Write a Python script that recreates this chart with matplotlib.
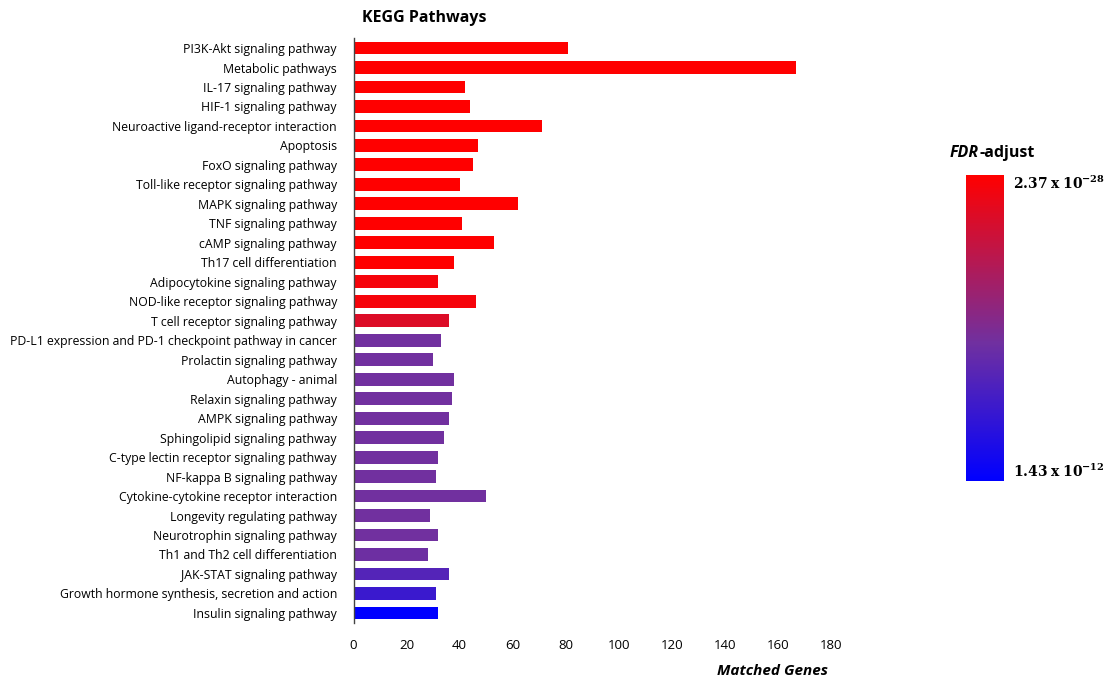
import matplotlib.pyplot as plt
import matplotlib.colors as mcolors
from matplotlib.cm import ScalarMappable

plt.rcParams['font.family'] = ['Open Sans', 'DejaVu Sans']
plt.rcParams['mathtext.fontset'] = 'dejavuserif'

pathways = [
    'PI3K-Akt signaling pathway', 'Metabolic pathways', 'IL-17 signaling pathway',
    'HIF-1 signaling pathway', 'Neuroactive ligand-receptor interaction', 'Apoptosis',
    'FoxO signaling pathway', 'Toll-like receptor signaling pathway', 'MAPK signaling pathway',
    'TNF signaling pathway', 'cAMP signaling pathway', 'Th17 cell differentiation',
    'Adipocytokine signaling pathway', 'NOD-like receptor signaling pathway',
    'T cell receptor signaling pathway',
    'PD-L1 expression and PD-1 checkpoint pathway in cancer',
    'Prolactin signaling pathway', 'Autophagy - animal', 'Relaxin signaling pathway',
    'AMPK signaling pathway', 'Sphingolipid signaling pathway',
    'C-type lectin receptor signaling pathway', 'NF-kappa B signaling pathway',
    'Cytokine-cytokine receptor interaction', 'Longevity regulating pathway',
    'Neurotrophin signaling pathway', 'Th1 and Th2 cell differentiation',
    'JAK-STAT signaling pathway', 'Growth hormone synthesis, secretion and action',
    'Insulin signaling pathway',
]
matched_genes = [81, 167, 42, 44, 71, 47, 45, 40, 62, 41, 53, 38, 32, 46, 36,
                 33, 30, 38, 37, 36, 34, 32, 31, 50, 29, 32, 28, 36, 31, 32]
# -log10(FDR adjusted)
neg_log_fdr = [27.6, 27.6, 27.6, 27.6, 27.6, 27.6, 27.6, 27.6, 27.6, 27.6,
               27.6, 27.6, 27.0, 27.0, 25.5,
               19.0, 19.0, 19.0, 19.0, 19.0, 19.0, 19.0, 19.0, 19.0, 19.0,
               19.0, 18.8, 17.2, 15.5, 11.85]
fdr_min_label = r'$\mathbf{2.37\;x\;10^{-28}}$'
fdr_max_label = r'$\mathbf{1.43\;x\;10^{-12}}$'

cmap = mcolors.LinearSegmentedColormap.from_list(
    'fdr', [(0.0, '#0000FF'), (0.45, '#7030A0'), (1.0, '#FF0000')])
norm = mcolors.Normalize(vmin=11.85, vmax=27.6)

fig = plt.figure(figsize=(11.12, 6.8), dpi=100)
ax = fig.add_axes([0.318, 0.0843, 0.429, 0.8594])

ypos = list(range(len(pathways)))
ax.barh(ypos, matched_genes, height=0.66, color=cmap(norm(neg_log_fdr)),
        edgecolor='none')
ax.set_ylim(len(pathways) - 0.5, -0.5)
ax.set_xlim(0, 180)
ax.set_xticks(range(0, 181, 20))
ax.set_yticks(ypos)
ax.set_yticklabels(pathways, fontsize=8.8)
ax.tick_params(axis='y', length=0, pad=12)
ax.tick_params(axis='x', length=0, pad=12, labelsize=9.5)
for s in ['top', 'right', 'bottom']:
    ax.spines[s].set_visible(False)
ax.spines['left'].set_color('#444444')
ax.spines['left'].set_linewidth(1.0)

fig.text(362 / 1112, 1 - 18 / 680, 'KEGG Pathways', fontsize=11.5,
         fontweight='bold', ha='left', va='center')
fig.text(828 / 1112, 1 - 671 / 680, 'Matched Genes', fontsize=11,
         fontweight='bold', style='italic', ha='right', va='center')

# colour legend
cax = fig.add_axes([966 / 1112, 1 - 481 / 680, 38 / 1112, 306 / 680])
sm = ScalarMappable(norm=norm, cmap=cmap)
cb = fig.colorbar(sm, cax=cax)
cb.outline.set_visible(False)
cb.set_ticks([])
fig.text(1013 / 1112, 1 - 184 / 680, fdr_min_label, fontsize=10,
         ha='left', va='center')
fig.text(1013 / 1112, 1 - 472 / 680, fdr_max_label, fontsize=10,
         ha='left', va='center')
t_fdr = fig.text(950 / 1112, 1 - 153 / 680, 'FDR', fontsize=11.5, fontweight='bold',
                 style='italic', ha='left', va='center')
fig.canvas.draw()
bb = t_fdr.get_window_extent()
fig.text(bb.x1 / fig.bbox.width, 1 - 153 / 680, '-adjust', fontsize=11.5,
         fontweight='bold', ha='left', va='center')

fig.savefig('out.png', dpi=100)
